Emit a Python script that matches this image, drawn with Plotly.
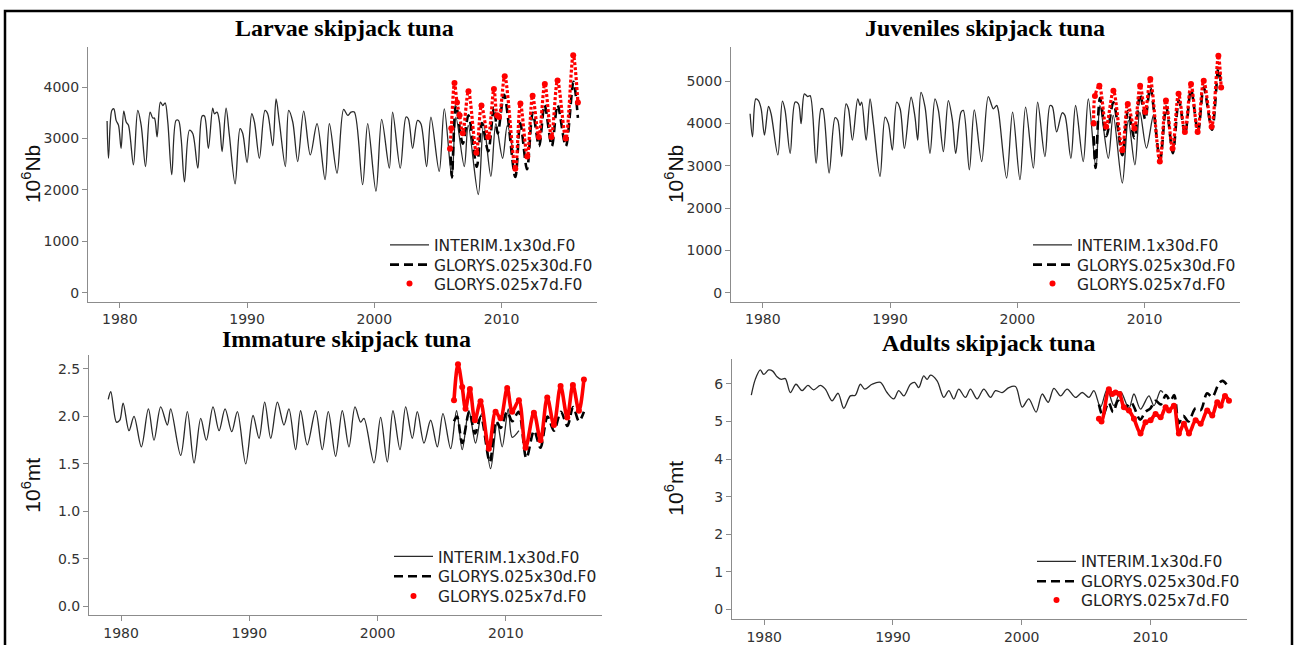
import plotly.graph_objects as go

W, H = 1294, 645

# ---------------- data (decimal year, value) ----------------
LARVAE_INTERIM = [(1979.0,3340),(1979.11,2615),(1979.37,3545),(1979.53,3577),(1979.71,3352),(1979.90,3256),(1980.10,2808),(1980.31,3532),(1980.50,3320),(1980.68,3256),(1981.07,2487),(1981.41,3545),(1981.68,3256),(1982.02,2455),(1982.38,3513),(1982.59,3397),(1982.72,3397),(1982.93,3032),(1983.19,3705),(1983.38,3641),(1983.56,3692),(1983.77,3320),(1984.08,2295),(1984.42,3352),(1984.61,3352),(1984.82,3000),(1985.08,2154),(1985.47,3160),(1985.73,3096),(1986.13,2423),(1986.47,3436),(1986.65,3436),(1986.96,2808),(1987.30,3590),(1987.43,3481),(1987.64,3513),(1987.83,3320),(1988.04,2743),(1988.35,3590),(1988.61,3064),(1989.06,2115),(1989.45,3192),(1989.66,3096),(1990.00,2532),(1990.37,3481),(1990.58,3320),(1990.97,2615),(1991.41,3545),(1991.62,3481),(1992.02,2859),(1992.28,3769),(1992.54,3320),(1993.01,2455),(1993.27,3545),(1993.59,3320),(1993.98,2551),(1994.45,3532),(1994.97,2679),(1995.50,3288),(1996.13,2199),(1996.47,3288),(1997.07,2327),(1997.59,3564),(1997.91,3449),(1998.17,3513),(1998.43,3513),(1999.08,2102),(1999.48,3288),(2000.13,1974),(2000.58,3372),(2001.18,2423),(2001.44,3513),(2002.04,2423),(2002.49,3417),(2002.67,3384),(2003.01,2808),(2003.40,3352),(2003.66,3288),(2004.11,2455),(2004.45,3417),(2005.10,2359),(2005.50,3577),(2006.10,2218),(2006.41,3417),(2007.07,2455),(2007.38,3256),(2008.17,1910),(2008.59,3288),(2009.16,2263),(2009.55,3288),(2010.08,2615),(2010.45,3250),(2010.90,2750)]
LARVAE_G30 = [(2006.0,2650),(2006.1,2250),(2006.42,3650),(2006.95,2900),(2007.4,3450),(2008.05,2450),(2008.45,3300),(2008.95,2750),(2009.4,3600),(2009.7,3100),(2010.2,3850),(2011.08,2250),(2011.47,3300),(2012.0,2400),(2012.45,3500),(2012.95,2850),(2013.38,3650),(2013.95,2850),(2014.4,3650),(2015.05,2850),(2015.65,4100),(2016.0,3400)]
LARVAE_G7 = [(2005.95,2800),(2006.05,3200),(2006.3,4080),(2006.5,3700),(2006.7,3450),(2006.95,3100),(2007.4,3920),(2008.02,2720),(2008.42,3640),(2008.95,3030),(2009.4,3960),(2009.65,3450),(2009.8,3420),(2010.25,4210),(2011.08,2410),(2011.48,3680),(2012.02,2650),(2012.44,3830),(2012.93,3030),(2013.4,4060),(2013.92,3030),(2014.4,4130),(2015.05,3000),(2015.63,4620),(2016.0,3700)]

JUV_INTERIM = [(1979.0,4230),(1979.19,3685),(1979.45,4580),(1979.66,4541),(1979.87,4347),(1980.13,3724),(1980.45,4401),(1980.65,4230),(1981.18,3256),(1981.54,4526),(1981.75,4308),(1982.15,3295),(1982.54,4503),(1982.80,4464),(1983.01,3996),(1983.27,4697),(1983.53,4635),(1983.72,4658),(1984.19,3061),(1984.58,4347),(1984.71,4347),(1985.21,2828),(1985.68,4136),(1985.89,4074),(1986.20,3217),(1986.54,4464),(1986.73,4347),(1987.04,3607),(1987.46,4580),(1987.64,4425),(1987.77,4503),(1988.12,3607),(1988.43,4580),(1988.69,3996),(1989.21,2750),(1989.61,4152),(1989.87,3996),(1990.18,3373),(1990.52,4503),(1990.79,4347),(1991.13,3412),(1991.65,4619),(1991.96,4152),(1992.17,3607),(1992.43,4736),(1992.75,4386),(1993.14,3295),(1993.53,4580),(1993.80,4308),(1994.19,3334),(1994.58,4541),(1994.90,4074),(1995.16,3295),(1995.58,4269),(1995.76,4308),(1996.23,2906),(1996.62,4323),(1997.20,3100),(1997.72,4635),(1998.12,4347),(1998.38,4425),(1998.51,4308),(1999.16,2711),(1999.63,4269),(2000.21,2672),(2000.65,4386),(2001.26,2945),(2001.60,4503),(2002.17,3217),(2002.57,4425),(2002.75,4401),(2003.09,3802),(2003.53,4253),(2003.74,4191),(2004.21,3178),(2004.58,4425),(2005.18,3100),(2005.58,4580),(2006.18,2945),(2006.49,4425),(2007.15,3178),(2007.54,4191),(2008.25,2594),(2008.72,4074),(2009.24,3022),(2009.63,4269),(2010.15,3420),(2010.70,4200),(2010.95,3700)]
JUV_G30 = [(2006.0,3700),(2006.15,2950),(2006.5,4600),(2007.0,3700),(2007.55,4500),(2008.25,3250),(2008.7,4300),(2009.2,3650),(2009.65,4700),(2010.05,4100),(2010.45,4850),(2011.22,3150),(2011.7,4400),(2012.22,3300),(2012.7,4550),(2013.18,3750),(2013.65,4800),(2014.2,3800),(2014.65,4850),(2015.3,3850),(2015.8,5300),(2016.0,4900)]
JUV_G7 = [(2006.0,4000),(2006.1,4650),(2006.45,4890),(2006.98,3920),(2007.55,4775),(2008.25,3370),(2008.68,4460),(2009.2,3880),(2009.65,4890),(2010.05,4270),(2010.45,5050),(2011.2,3100),(2011.68,4540),(2012.2,3410),(2012.67,4700),(2013.17,3800),(2013.65,4930),(2014.17,3800),(2014.65,5010),(2015.27,3920),(2015.8,5600),(2016.02,4850)]

IMM_INTERIM = [(1979.0,2.18),(1979.20,2.26),(1979.64,1.94),(1979.90,1.96),(1980.16,2.14),(1980.62,1.85),(1981.01,2.00),(1981.58,1.68),(1982.13,2.08),(1982.57,1.75),(1983.09,2.10),(1983.61,1.91),(1983.87,2.08),(1984.65,1.59),(1985.17,2.05),(1985.69,1.51),(1986.21,1.98),(1986.65,1.75),(1987.17,2.10),(1987.64,1.85),(1988.11,2.08),(1988.63,1.84),(1989.07,2.05),(1989.72,1.50),(1990.29,2.01),(1990.76,1.77),(1991.20,2.15),(1991.67,1.77),(1992.19,2.15),(1992.70,1.91),(1993.09,2.08),(1993.61,1.65),(1994.00,2.06),(1994.52,1.70),(1995.17,2.06),(1995.69,1.65),(1996.16,2.05),(1996.73,1.58),(1997.25,2.06),(1997.77,1.68),(1998.24,2.10),(1998.68,1.94),(1998.94,1.98),(1999.72,1.51),(2000.24,1.99),(2000.76,1.52),(2001.20,2.06),(2001.75,1.65),(2002.19,2.10),(2002.71,1.77),(2003.10,2.05),(2003.62,1.72),(2004.14,1.96),(2004.66,1.68),(2005.10,2.03),(2005.70,1.66),(2006.16,2.06),(2006.60,1.65),(2007.12,2.06),(2007.64,1.72),(2008.11,2.03),(2008.81,1.45),(2009.33,1.94),(2009.72,1.68),(2010.19,2.08),(2010.50,1.78),(2011.02,1.85)]
IMM_G30 = [(2005.96,1.95),(2006.2,2.0),(2006.6,1.72),(2007.15,2.05),(2007.6,1.82),(2008.05,2.0),(2008.75,1.52),(2009.25,1.95),(2009.6,1.88),(2010.1,2.05),(2010.5,1.95),(2011.0,2.05),(2011.6,1.56),(2012.2,1.85),(2012.7,1.67),(2013.25,2.0),(2013.75,1.85),(2014.3,2.05),(2014.8,1.90),(2015.25,2.1),(2015.7,1.95),(2016.09,2.05)]
IMM_G7 = [(2005.96,2.17),(2006.27,2.55),(2006.60,2.31),(2006.86,2.08),(2007.20,2.29),(2007.59,1.96),(2008.03,2.16),(2008.68,1.66),(2009.20,2.05),(2009.59,1.98),(2010.11,2.30),(2010.50,2.05),(2011.02,2.17),(2011.54,1.67),(2012.19,2.04),(2012.71,1.75),(2013.23,2.20),(2013.75,1.91),(2014.27,2.32),(2014.79,1.99),(2015.23,2.33),(2015.70,2.06),(2016.09,2.39)]

ADULT_INTERIM = [(1979.0,5.70),(1979.31,6.12),(1979.70,6.37),(1979.96,6.25),(1980.35,6.37),(1980.66,6.34),(1981.0,6.19),(1981.33,6.12),(1981.64,6.14),(1982.03,5.77),(1982.47,5.99),(1982.94,5.82),(1983.40,5.96),(1983.84,5.84),(1984.36,5.96),(1984.75,5.86),(1985.27,5.55),(1985.74,5.75),(1986.18,5.35),(1986.69,5.68),(1987.08,5.70),(1987.47,5.99),(1987.81,5.86),(1988.38,5.99),(1989.03,6.04),(1989.54,5.77),(1990.06,5.60),(1990.45,5.82),(1990.84,5.68),(1991.36,5.99),(1991.69,6.04),(1992.0,5.90),(1992.39,6.21),(1992.65,6.12),(1992.91,6.23),(1993.43,6.08),(1993.95,5.64),(1994.34,5.82),(1994.73,5.60),(1995.11,5.86),(1995.63,5.64),(1996.02,5.86),(1996.54,5.60),(1997.06,5.86),(1997.58,5.64),(1997.96,5.82),(1998.48,5.77),(1999.0,5.90),(1999.52,5.93),(2000.04,5.38),(2000.55,5.60),(2001.12,5.25),(2001.59,5.73),(2002.06,5.51),(2002.50,5.88),(2003.02,5.68),(2003.53,5.86),(2004.18,5.64),(2004.70,5.77),(2005.22,5.64),(2005.61,5.82),(2006.12,5.38),(2006.64,5.86),(2007.16,5.42),(2007.68,5.79),(2008.33,5.35),(2008.72,5.73),(2009.23,5.33),(2009.88,5.68),(2010.27,5.42),(2010.79,5.82),(2010.97,5.77)]
ADULT_G30 = [(2006.0,5.45),(2006.3,5.15),(2006.75,5.5),(2007.1,5.25),(2007.5,5.55),(2008.0,5.35),(2008.5,5.5),(2009.2,5.05),(2009.6,5.25),(2010.0,5.35),(2010.4,5.55),(2010.8,5.45),(2011.2,5.7),(2011.55,5.55),(2011.85,5.7),(2012.2,4.95),(2012.55,5.15),(2012.95,5.0),(2013.5,5.35),(2013.9,5.3),(2014.4,5.75),(2014.8,5.65),(2015.3,6.0),(2015.6,6.08),(2016.1,5.9)]
ADULT_G7 = [(2006.0,5.07),(2006.2,5.0),(2006.77,5.86),(2007.03,5.73),(2007.29,5.77),(2007.60,5.73),(2007.94,5.38),(2008.33,5.29),(2008.72,5.07),(2009.23,4.68),(2009.62,4.98),(2010.01,5.03),(2010.40,5.20),(2010.79,5.11),(2011.18,5.38),(2011.44,5.29),(2011.82,5.42),(2012.21,4.68),(2012.60,4.94),(2012.99,4.68),(2013.51,5.03),(2013.90,4.94),(2014.41,5.29),(2014.80,5.16),(2015.19,5.51),(2015.45,5.42),(2015.79,5.68),(2016.10,5.55)]

SERIES_NAMES = ["INTERIM.1x30d.F0", "GLORYS.025x30d.F0", "GLORYS.025x7d.F0"]
TITLES = ["Larvae skipjack tuna", "Juveniles skipjack tuna", "Immature skipjack tuna", "Adults skipjack tuna"]
Y_TITLES = ["10<sup>6</sup>Nb", "10<sup>6</sup>Nb", "10<sup>6</sup>mt", "10<sup>6</sup>mt"]
X_TICKS = [1980, 1990, 2000, 2010]
Y_TICKS_LARVAE = [0, 1000, 2000, 3000, 4000]
Y_TICKS_JUV = [0, 1000, 2000, 3000, 4000, 5000]
Y_TICKS_IMM = [0.0, 0.5, 1.0, 1.5, 2.0, 2.5]
Y_TICKTEXT_IMM = ["0.0", "0.5", "1.0", "1.5", "2.0", "2.5"]
Y_TICKS_ADULT = [0, 1, 2, 3, 4, 5, 6]

# ---------------- layout helpers (pixel geometry) ----------------
panels = [
    dict(interim=LARVAE_INTERIM, g30=LARVAE_G30, g7=LARVAE_G7, dotted=True,
         xd=(88, 597), yd=(48, 305), yr=(-175, 4770), yt=Y_TICKS_LARVAE, ytt=None,
         tpos=(344, 28), ytpos=(31, 176), lx=390, ly=(248, 268, 287)),
    dict(interim=JUV_INTERIM, g30=JUV_G30, g7=JUV_G7, dotted=True,
         xd=(731, 1240), yd=(48, 305), yr=(-210, 5795), yt=Y_TICKS_JUV, ytt=None,
         tpos=(985, 28), ytpos=(674, 176), lx=1033, ly=(248, 268, 287)),
    dict(interim=IMM_INTERIM, g30=IMM_G30, g7=IMM_G7, dotted=False,
         xd=(89, 602), yd=(359, 622), yr=(-0.094, 2.646), yt=Y_TICKS_IMM, ytt=Y_TICKTEXT_IMM,
         tpos=(346, 343), ytpos=(31, 490), lx=394, ly=(563, 583, 603)),
    dict(interim=ADULT_INTERIM, g30=ADULT_G30, g7=ADULT_G7, dotted=False,
         xd=(732, 1247), yd=(363, 626), yr=(-0.26, 6.66), yt=Y_TICKS_ADULT, ytt=None,
         tpos=(989, 347), ytpos=(674, 493), lx=1037, ly=(568, 588, 607)),
]

AXIS_GREY = "#8c8c8c"
TICK_FONT = dict(family="DejaVu Sans", size=14, color="#333333")

fig = go.Figure()
layout = {}
annotations = []

def unzip(pairs):
    return [p[0] for p in pairs], [p[1] for p in pairs]

for i, p in enumerate(panels):
    n = i + 1
    sfx = "" if n == 1 else str(n)
    xa, ya = "x" + sfx, "y" + sfx
    legs = []
    for j in range(3):
        k = i * 3 + j + 1
        legs.append("legend" if k == 1 else f"legend{k}")

    t, v = unzip(p["interim"])
    fig.add_trace(go.Scatter(x=t, y=v, mode="lines", name=SERIES_NAMES[0], showlegend=True,
                             line=dict(color="#2a2a2a", width=1.3, shape="spline", smoothing=0.9),
                             xaxis=xa, yaxis=ya, legend=legs[0]))
    t, v = unzip(p["g30"])
    fig.add_trace(go.Scatter(x=t, y=v, mode="lines", name=SERIES_NAMES[1], showlegend=True,
                             line=dict(color="black", width=2.6, dash="9px,5px", shape="spline", smoothing=0.9),
                             xaxis=xa, yaxis=ya, legend=legs[1]))
    t, v = unzip(p["g7"])
    fig.add_trace(go.Scatter(x=t, y=v, mode="lines", name=SERIES_NAMES[2], showlegend=False,
                             line=dict(color="#ff0000", width=3.2 if p["dotted"] else 3.6,
                                       dash="3px,2px" if p["dotted"] else "solid",
                                       shape="spline", smoothing=0.9),
                             xaxis=xa, yaxis=ya, legend=legs[2]))
    fig.add_trace(go.Scatter(x=t, y=v, mode="markers", name=SERIES_NAMES[2], showlegend=True,
                             marker=dict(color="#ff0000", size=6),
                             xaxis=xa, yaxis=ya, legend=legs[2]))

    layout["xaxis" + sfx] = dict(domain=[p["xd"][0] / W, p["xd"][1] / W], range=[1977.5, 2017.5],
                                  anchor=ya, showgrid=False, zeroline=False, showline=True,
                                  linecolor=AXIS_GREY, linewidth=1, ticks="outside", ticklen=5,
                                  tickcolor=AXIS_GREY, tickvals=X_TICKS, tickfont=TICK_FONT)
    ydict = dict(domain=[1 - p["yd"][1] / H, 1 - p["yd"][0] / H], range=list(p["yr"]),
                 anchor=xa, showgrid=False, zeroline=False, showline=True,
                 linecolor=AXIS_GREY, linewidth=1, ticks="outside", ticklen=5,
                 tickcolor=AXIS_GREY, tickvals=p["yt"], tickfont=TICK_FONT)
    if p["ytt"] is not None:
        ydict["ticktext"] = p["ytt"]
    layout["yaxis" + sfx] = ydict

    for j in range(3):
        layout[legs[j]] = dict(x=(p["lx"] - 5) / W, y=1 - p["ly"][j] / H, xanchor="left",
                               yanchor="middle", bgcolor="rgba(0,0,0,0)", borderwidth=0,
                               itemwidth=39,
                               font=dict(family="DejaVu Sans", size=15.5, color="#222222"))

    annotations.append(dict(text="<b>" + TITLES[i] + "</b>", xref="paper", yref="paper",
                            x=p["tpos"][0] / W, y=1 - p["tpos"][1] / H, xanchor="center",
                            yanchor="middle", showarrow=False,
                            font=dict(family="Liberation Serif", size=24, color="black")))
    annotations.append(dict(text=Y_TITLES[i], xref="paper", yref="paper",
                            x=p["ytpos"][0] / W, y=1 - p["ytpos"][1] / H, xanchor="center",
                            yanchor="middle", showarrow=False, textangle=-90,
                            font=dict(family="Liberation Sans", size=21, color="#111111")))

fig.update_layout(**layout)
fig.update_layout(
    width=W, height=H, margin=dict(l=0, r=0, t=0, b=0),
    showlegend=True,
    paper_bgcolor="white", plot_bgcolor="white",
    annotations=annotations,
    shapes=[dict(type="rect", xref="paper", yref="paper", x0=5 / W, x1=1292 / W,
                 y0=-0.05, y1=1 - 11 / H, line=dict(color="black", width=2.5))],
)

fig.write_html("out.html")
